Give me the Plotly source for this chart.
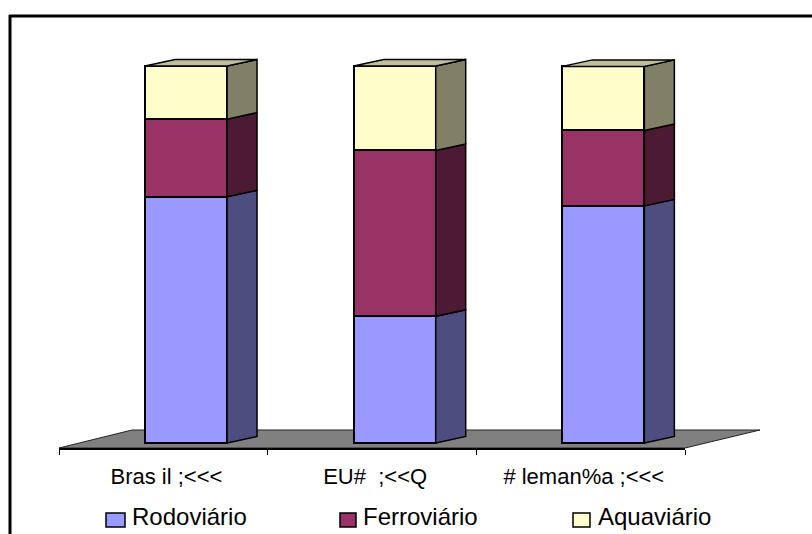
import plotly.graph_objects as go

W, H = 812, 534
categories = ["Bras il ;<<<", "EU#  ;<<Q", "# leman%a ;<<<"]
rodoviario = [65.3, 33.6, 62.9]
ferroviario = [20.6, 44.0, 20.0]
aquaviario = [14.1, 22.4, 17.0]
series_names = ["Rodoviário", "Ferroviário", "Aquaviário"]
front_colors = ["#9999FF", "#993366", "#FFFFCC"]
side_colors = ["#4D4D80", "#4D1A33", "#808066"]
top_colors = ["#B3B3D9", "#B38099", "#BFBF99"]

# pixel layout of the plot box
X0, X1, Y_AX, Y_TOP = 59, 685, 448, 55
CAT_W = (X1 - X0) / 3
PX_PER_UNIT = 3.77
BAR_SHIFT = 22.7 / CAT_W
BAR_W = 82 / CAT_W
DX = 30 / CAT_W
DY = 6.5 / PX_PER_UNIT
Y_ZERO_PX = 443
ymin = -(Y_AX - Y_ZERO_PX) / PX_PER_UNIT
ymax = (Y_ZERO_PX - Y_TOP) / PX_PER_UNIT

fig = go.Figure()
values = [rodoviario, ferroviario, aquaviario]
pos = [i + BAR_SHIFT for i in range(3)]

for k, name in enumerate(series_names):
    fig.add_trace(go.Bar(x=pos, y=values[k], width=BAR_W, name=name,
                         marker=dict(color=front_colors[k], line=dict(color="black", width=2)),
                         showlegend=False, hoverinfo="name+y"))

line = dict(color="black", width=1.5)
for i in range(3):
    left, right = pos[i] - BAR_W / 2, pos[i] + BAR_W / 2
    base = 0
    for k in range(3):
        top = base + values[k][i]
        fig.add_trace(go.Scatter(
            x=[right, right + DX, right + DX, right, right],
            y=[base, base + DY, top + DY, top, base],
            mode="lines", fill="toself", fillcolor=side_colors[k], line=line,
            showlegend=False, hoverinfo="skip"))
        base = top
    fig.add_trace(go.Scatter(
        x=[left, left + DX, right + DX, right, left],
        y=[base, base + DY, base + DY, base, base],
        mode="lines", fill="toself", fillcolor=top_colors[2], line=line,
        showlegend=False, hoverinfo="skip"))

def px(x): return x / W
def py(y): return 1 - y / H

shapes = [
    dict(type="path", xref="paper", yref="paper", layer="below",
         path=f"M{px(59)},{py(448)} L{px(685)},{py(448)} L{px(760)},{py(430)} L{px(132)},{py(430)} Z",
         fillcolor="#808080", line=dict(color="#222222", width=1)),
    dict(type="line", xref="paper", yref="paper", x0=px(9), x1=px(812), y0=py(16), y1=py(16),
         line=dict(color="black", width=3)),
    dict(type="line", xref="paper", yref="paper", x0=px(10), x1=px(10), y0=py(15), y1=py(534),
         line=dict(color="black", width=3)),
]
annotations = []
swatch_x = [(106, 125), (340, 356), (573, 590)]
label_x = [130, 361, 596]
for k, name in enumerate(series_names):
    a, b = swatch_x[k]
    shapes.append(dict(type="rect", xref="paper", yref="paper",
                       x0=px(a), x1=px(b), y0=py(527), y1=py(513),
                       fillcolor=front_colors[k], line=dict(color="black", width=1.5)))
    annotations.append(dict(text=name, xref="paper", yref="paper", x=px(label_x[k]), y=py(516),
                            xanchor="left", yanchor="middle", showarrow=False,
                            font=dict(family="Liberation Sans", size=24, color="black")))

fig.update_layout(
    width=W, height=H, autosize=False, barmode="stack", showlegend=False,
    margin=dict(l=0, r=0, t=0, b=0),
    paper_bgcolor="white", plot_bgcolor="rgba(0,0,0,0)",
    shapes=shapes, annotations=annotations,
    font=dict(family="Liberation Sans", color="black"),
    xaxis=dict(domain=[px(X0), px(X1)], range=[-0.5, 2.5], tickmode="array",
               tickvals=[i + 0.015 for i in range(3)], ticktext=categories, ticks="",
               showgrid=False, zeroline=False,
               showline=True, linecolor="black", linewidth=1.5, ticklabelstandoff=8,
               tickfont=dict(size=22, family="Liberation Sans", color="black"),
               minor=dict(tickmode="array", tickvals=[-0.5, 0.5, 1.5, 2.5], ticks="outside",
                          ticklen=5, tickcolor="black", tickwidth=1)),
    yaxis=dict(domain=[py(Y_AX), py(Y_TOP)], range=[ymin, ymax], visible=False),
)
fig.write_html("out.html", config={"displayModeBar": False},
               post_script="document.body.style.margin='0';")
